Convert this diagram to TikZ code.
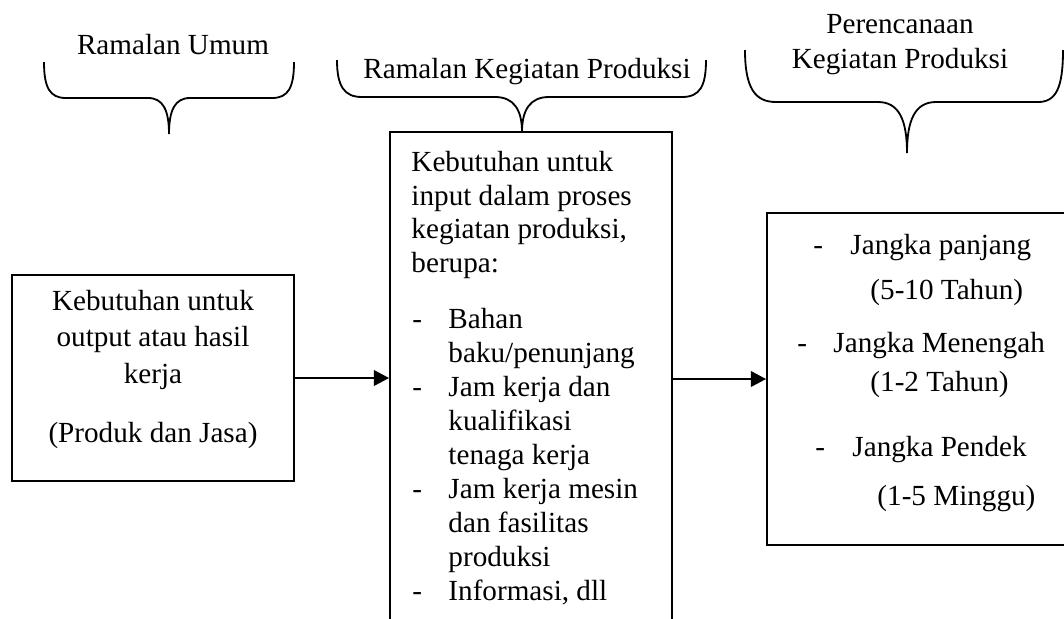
\documentclass[tikz,border=0pt]{standalone}
\usepackage{fontspec}
\setmainfont{Liberation Serif}
\usetikzlibrary{arrows.meta,fit}
\begin{document}
\begin{tikzpicture}[x=0.4115pt,y=-0.4115pt,
  txt/.style={inner sep=0pt,font=\fontsize{12}{14}\selectfont},
  box/.style={draw,line width=0.8pt,inner sep=0pt},
  brace/.style={line width=0.75pt},
  arr/.style={-{Triangle[length=6.2pt,width=6.4pt]},line width=0.7pt}]
\path[use as bounding box] (0,0) rectangle (1064,618);
\clip (0,0) rectangle (1064,618);

% braces
\draw[brace] (44,62) .. controls (44,88) and (50,98) .. (66,98) -- (148,98)
  .. controls (163,98) and (169,110) .. (169,134)
  .. controls (169,110) and (175,98) .. (190,98) -- (272,98)
  .. controls (288,98) and (294,88) .. (294,62);
\draw[brace] (337,60) .. controls (337,86) and (344,97) .. (362,97) -- (495,97)
  .. controls (514,97) and (522,110) .. (522,132)
  .. controls (522,110) and (530,97) .. (549,97) -- (682,97)
  .. controls (700,97) and (706,86) .. (706,60);
\draw[brace] (745,50) .. controls (745,88) and (755,102) .. (776,102) -- (878,102)
  .. controls (899,102) and (907,120) .. (907,153)
  .. controls (907,120) and (915,102) .. (936,102) -- (1038,102)
  .. controls (1056,102) and (1063,88) .. (1063,50);

\node[txt,anchor=base] (t1) at (173,54) {Ramalan Umum};
\node[txt,anchor=base] (t2) at (527,78) {Ramalan Kegiatan Produksi};
\node[txt,anchor=base] (t3a) at (900,33) {Perencanaan};
\node[txt,anchor=base] (t3b) at (900,68) {Kegiatan Produksi};

% boxes
\coordinate (l1) at (12,275); \coordinate (l2) at (294,481);
\node[box,fit=(l1)(l2)] (lbox) {};
\coordinate (m1) at (390,132); \coordinate (m2) at (672,660);
\node[box,fit=(m1)(m2)] (mbox) {};
\coordinate (r1) at (767,213); \coordinate (r2) at (1080,545);
\node[box,fit=(r1)(r2)] (rbox) {};

% left box text
\node[txt,anchor=base] (la) at (153,310) {Kebutuhan untuk};
\node[txt,anchor=base] (lb) at (153,346) {output atau hasil};
\node[txt,anchor=base] (lc) at (153,383) {kerja};
\node[txt,anchor=base] (ld) at (153,442) {(Produk dan Jasa)};

% middle box text
\node[txt,anchor=base west] (ma) at (411,171) {Kebutuhan untuk};
\node[txt,anchor=base west] (mb) at (411,205) {input dalam proses};
\node[txt,anchor=base west] (mc) at (411,238) {kegiatan produksi,};
\node[txt,anchor=base west] (md) at (411,272) {berupa:};
\foreach \n/\y in {1/328,2/396,3/498,4/600}
  \node[txt,anchor=base west] (dash\n) at (412,\y) {-};
\node[txt,anchor=base west] (i1) at (448,328) {Bahan};
\node[txt,anchor=base west] (i2) at (448,362) {baku/penunjang};
\node[txt,anchor=base west] (i3) at (448,396) {Jam kerja dan};
\node[txt,anchor=base west] (i4) at (448,430) {kualifikasi};
\node[txt,anchor=base west] (i5) at (448,464) {tenaga kerja};
\node[txt,anchor=base west] (i6) at (448,498) {Jam kerja mesin};
\node[txt,anchor=base west] (i7) at (448,532) {dan fasilitas};
\node[txt,anchor=base west] (i8) at (448,566) {produksi};
\node[txt,anchor=base west] (i9) at (448,600) {Informasi, dll};

% right box text
\node[txt,anchor=base west] (rd1) at (813,254) {-};
\node[txt,anchor=base west] (ra) at (850,254) {Jangka panjang};
\node[txt,anchor=base west] (rb) at (870,299) {(5-10 Tahun)};
\node[txt,anchor=base west] (rd2) at (797,352) {-};
\node[txt,anchor=base west] (rc) at (833,352) {Jangka Menengah};
\node[txt,anchor=base west] (rdd) at (870,391) {(1-2 Tahun)};
\node[txt,anchor=base west] (rd3) at (815,456) {-};
\node[txt,anchor=base west] (re) at (852,456) {Jangka Pendek};
\node[txt,anchor=base west] (rf) at (877,505) {(1-5 Minggu)};

% arrows
\draw[arr] (lbox.east) -- (lbox.east -| mbox.west);
\draw[arr] (rbox.west -| mbox.east) -- (rbox.west);
\end{tikzpicture}
\end{document}
